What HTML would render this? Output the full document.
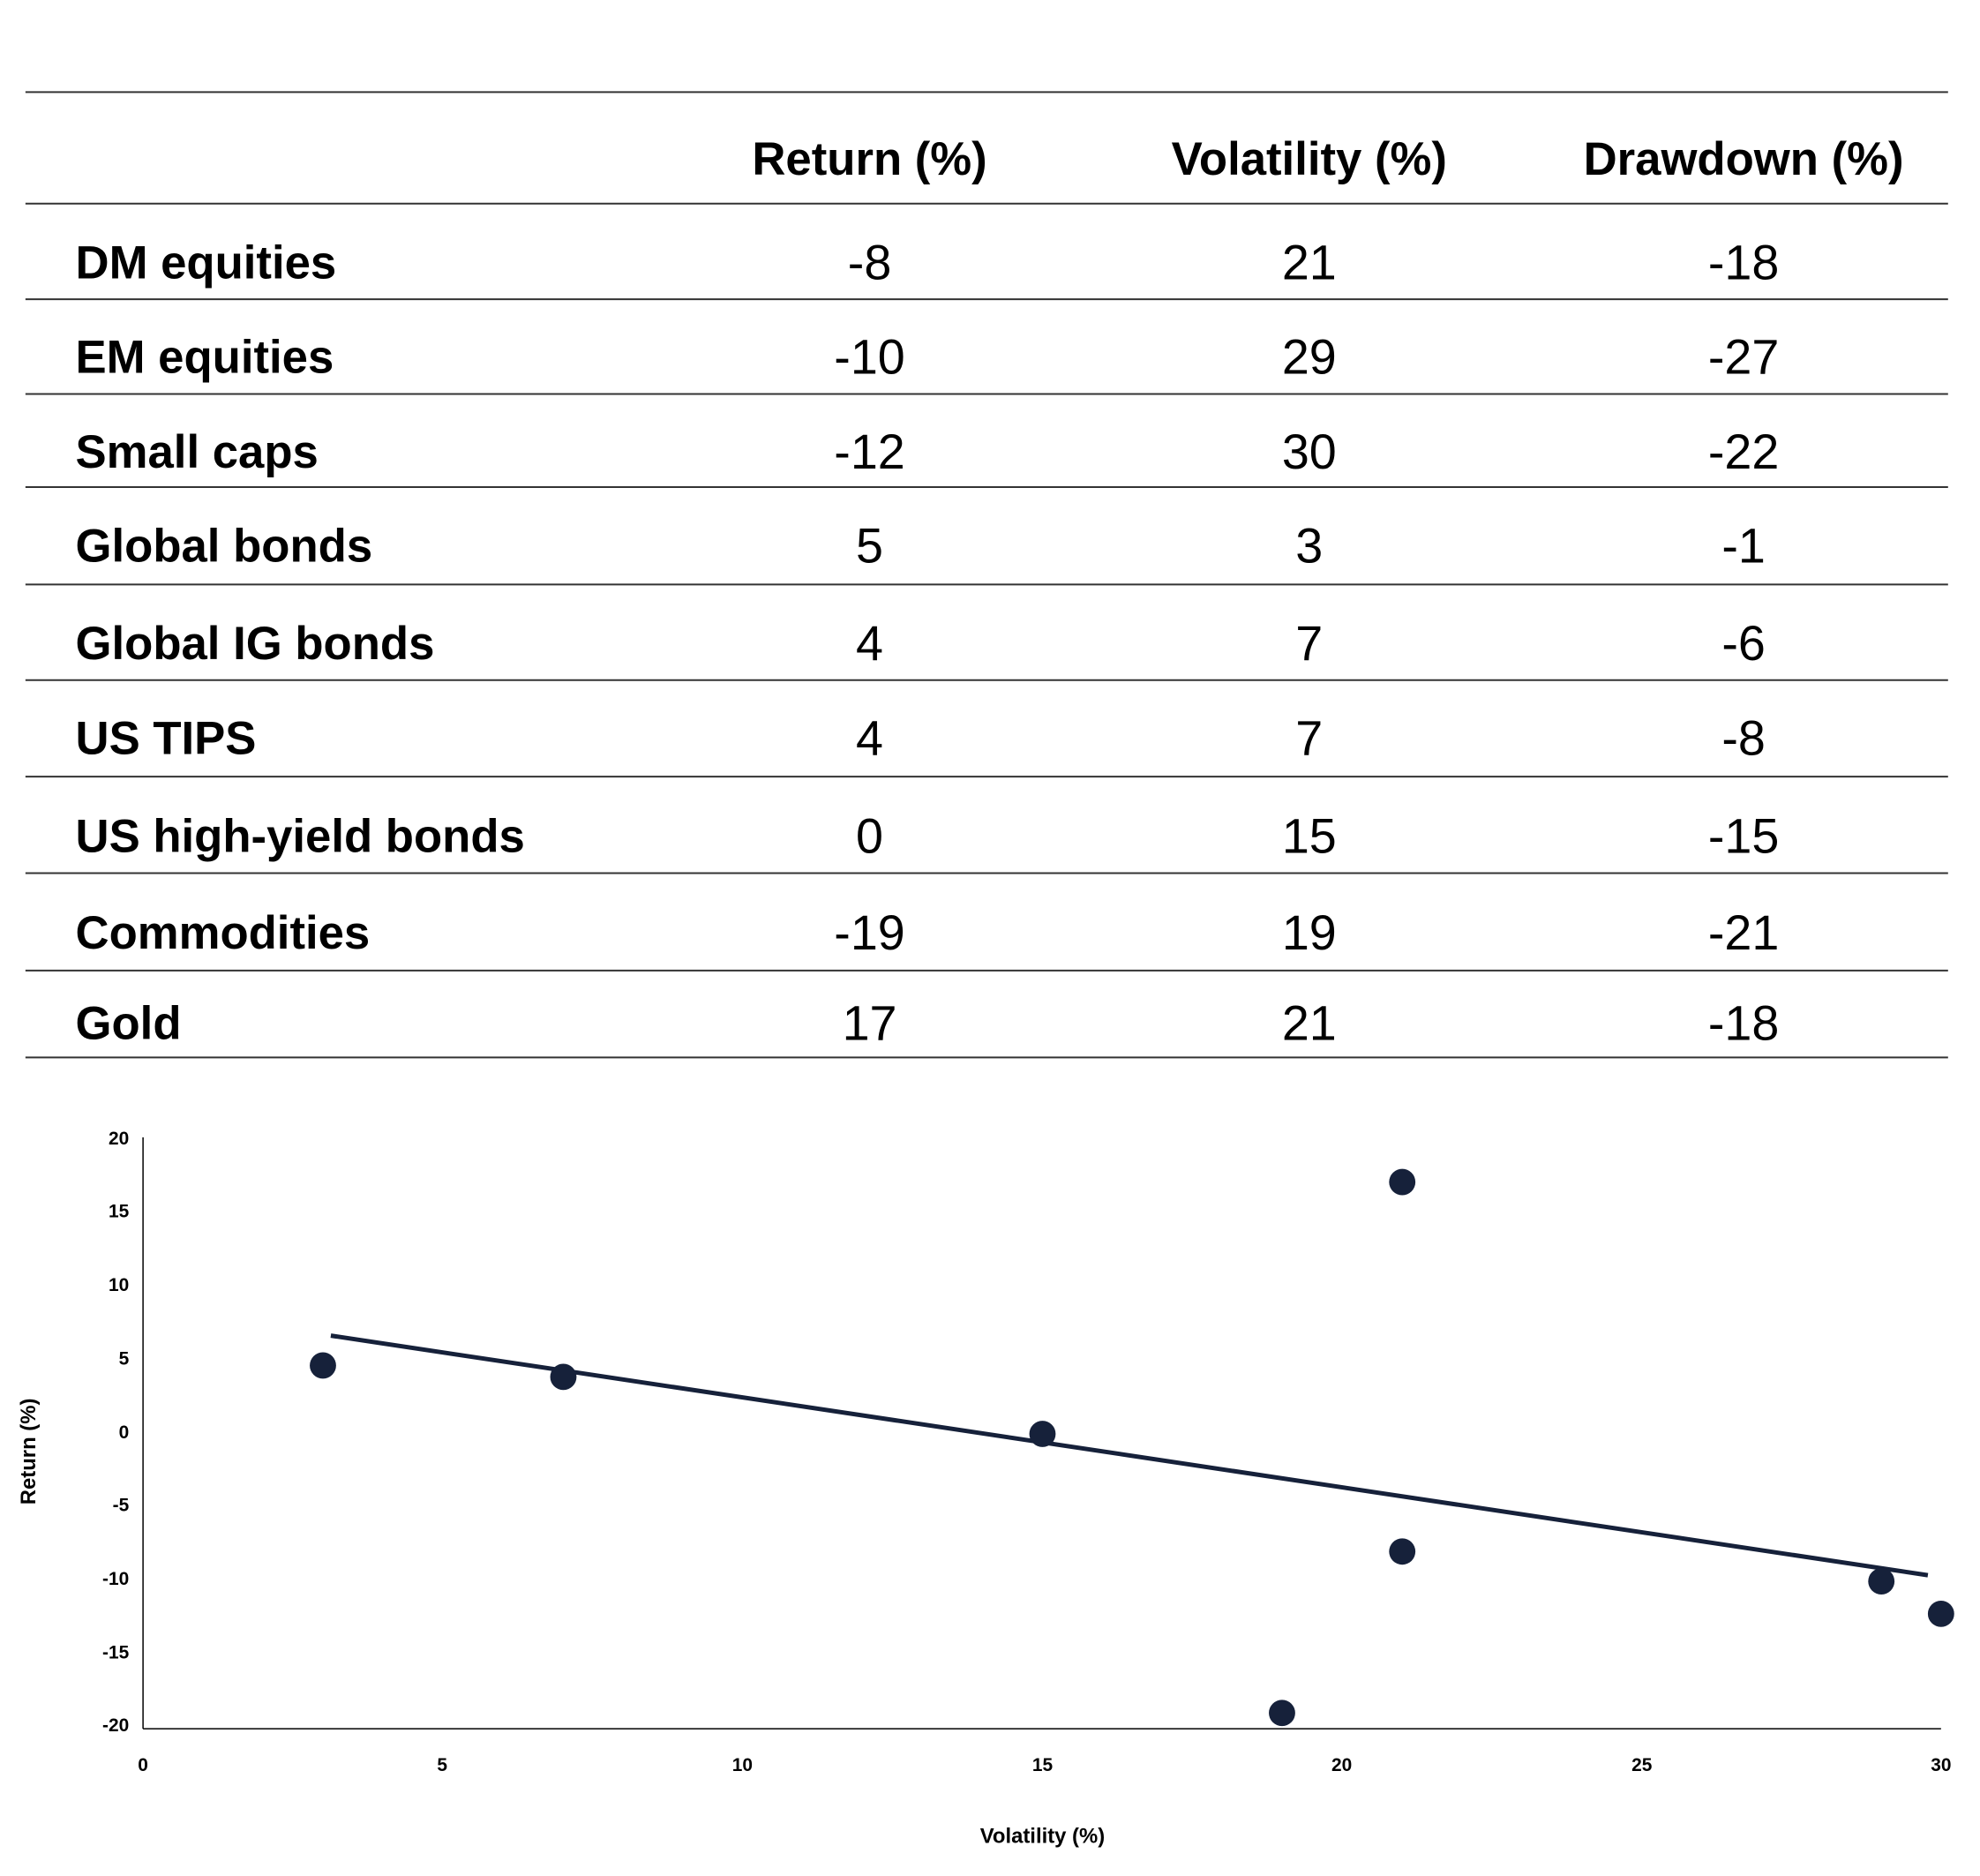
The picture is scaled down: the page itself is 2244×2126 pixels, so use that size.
<!DOCTYPE html>
<html><head><style>
body{margin:0;background:#fff;}
svg{display:block}
</style></head><body>
<svg width="2244" height="2126" xmlns="http://www.w3.org/2000/svg" font-family="Liberation Sans, sans-serif">
<g transform="scale(0.9945)">
<g stroke="#333" stroke-width="2">
<line x1="29" y1="105" x2="2220" y2="105"/>
<line x1="29" y1="232" x2="2220" y2="232"/>
<line x1="29" y1="341" x2="2220" y2="341"/>
<line x1="29" y1="449" x2="2220" y2="449"/>
<line x1="29" y1="555" x2="2220" y2="555"/>
<line x1="29" y1="666" x2="2220" y2="666"/>
<line x1="29" y1="775" x2="2220" y2="775"/>
<line x1="29" y1="885" x2="2220" y2="885"/>
<line x1="29" y1="995" x2="2220" y2="995"/>
<line x1="29" y1="1106" x2="2220" y2="1106"/>
<line x1="29" y1="1205" x2="2220" y2="1205"/>
</g>
<g font-size="53" font-weight="bold" text-anchor="middle" fill="#000">
<text x="991" y="199">Return (%)</text>
<text x="1492" y="199">Volatility (%)</text>
<text x="1987" y="199">Drawdown (%)</text>
</g>
<g font-size="53" font-weight="bold" fill="#000">
<text x="86" y="317">DM equities</text>
<text x="86" y="425">EM equities</text>
<text x="86" y="533">Small caps</text>
<text x="86" y="640">Global bonds</text>
<text x="86" y="751">Global IG bonds</text>
<text x="86" y="859">US TIPS</text>
<text x="86" y="971">US high-yield bonds</text>
<text x="86" y="1081">Commodities</text>
<text x="86" y="1184">Gold</text>
</g>
<g font-size="56" text-anchor="middle" fill="#000">
<text x="991" y="318">-8</text><text x="1492" y="318">21</text><text x="1987" y="318">-18</text>
<text x="991" y="426">-10</text><text x="1492" y="426">29</text><text x="1987" y="426">-27</text>
<text x="991" y="534">-12</text><text x="1492" y="534">30</text><text x="1987" y="534">-22</text>
<text x="991" y="641">5</text><text x="1492" y="641">3</text><text x="1987" y="641">-1</text>
<text x="991" y="752">4</text><text x="1492" y="752">7</text><text x="1987" y="752">-6</text>
<text x="991" y="860">4</text><text x="1492" y="860">7</text><text x="1987" y="860">-8</text>
<text x="991" y="972">0</text><text x="1492" y="972">15</text><text x="1987" y="972">-15</text>
<text x="991" y="1082">-19</text><text x="1492" y="1082">19</text><text x="1987" y="1082">-21</text>
<text x="991" y="1185">17</text><text x="1492" y="1185">21</text><text x="1987" y="1185">-18</text>
</g>
<g stroke="#000" stroke-width="1.5">
<line x1="163" y1="1296" x2="163" y2="1970"/>
<line x1="163" y1="1970" x2="2212" y2="1970"/>
</g>
<g font-size="21" font-weight="bold" text-anchor="end" fill="#000">
<text x="147" y="1304">20</text><text x="147" y="1387">15</text><text x="147" y="1471">10</text>
<text x="147" y="1555">5</text><text x="147" y="1639">0</text><text x="147" y="1722">-5</text>
<text x="147" y="1806">-10</text><text x="147" y="1890">-15</text><text x="147" y="1973">-20</text>
</g>
<g font-size="21" font-weight="bold" text-anchor="middle" fill="#000">
<text x="163" y="2018">0</text><text x="504" y="2018">5</text><text x="846" y="2018">10</text>
<text x="1188" y="2018">15</text><text x="1529" y="2018">20</text><text x="1871" y="2018">25</text><text x="2212" y="2018">30</text>
<text x="1188" y="2100" font-size="24">Volatility (%)</text>
<text transform="translate(40,1654) rotate(-90)" font-size="24">Return (%)</text>
</g>
<line x1="377" y1="1522" x2="2197" y2="1795" stroke="#16213a" stroke-width="5"/>
<g fill="#16213a">
<circle cx="368" cy="1556" r="15"/>
<circle cx="642" cy="1569" r="15"/>
<circle cx="1188" cy="1634" r="15"/>
<circle cx="1598" cy="1347" r="15"/>
<circle cx="1598" cy="1768" r="15"/>
<circle cx="1461" cy="1952" r="15"/>
<circle cx="2144" cy="1802" r="15"/>
<circle cx="2212" cy="1839" r="15"/>
</g>
</g>
</svg>
</body></html>
